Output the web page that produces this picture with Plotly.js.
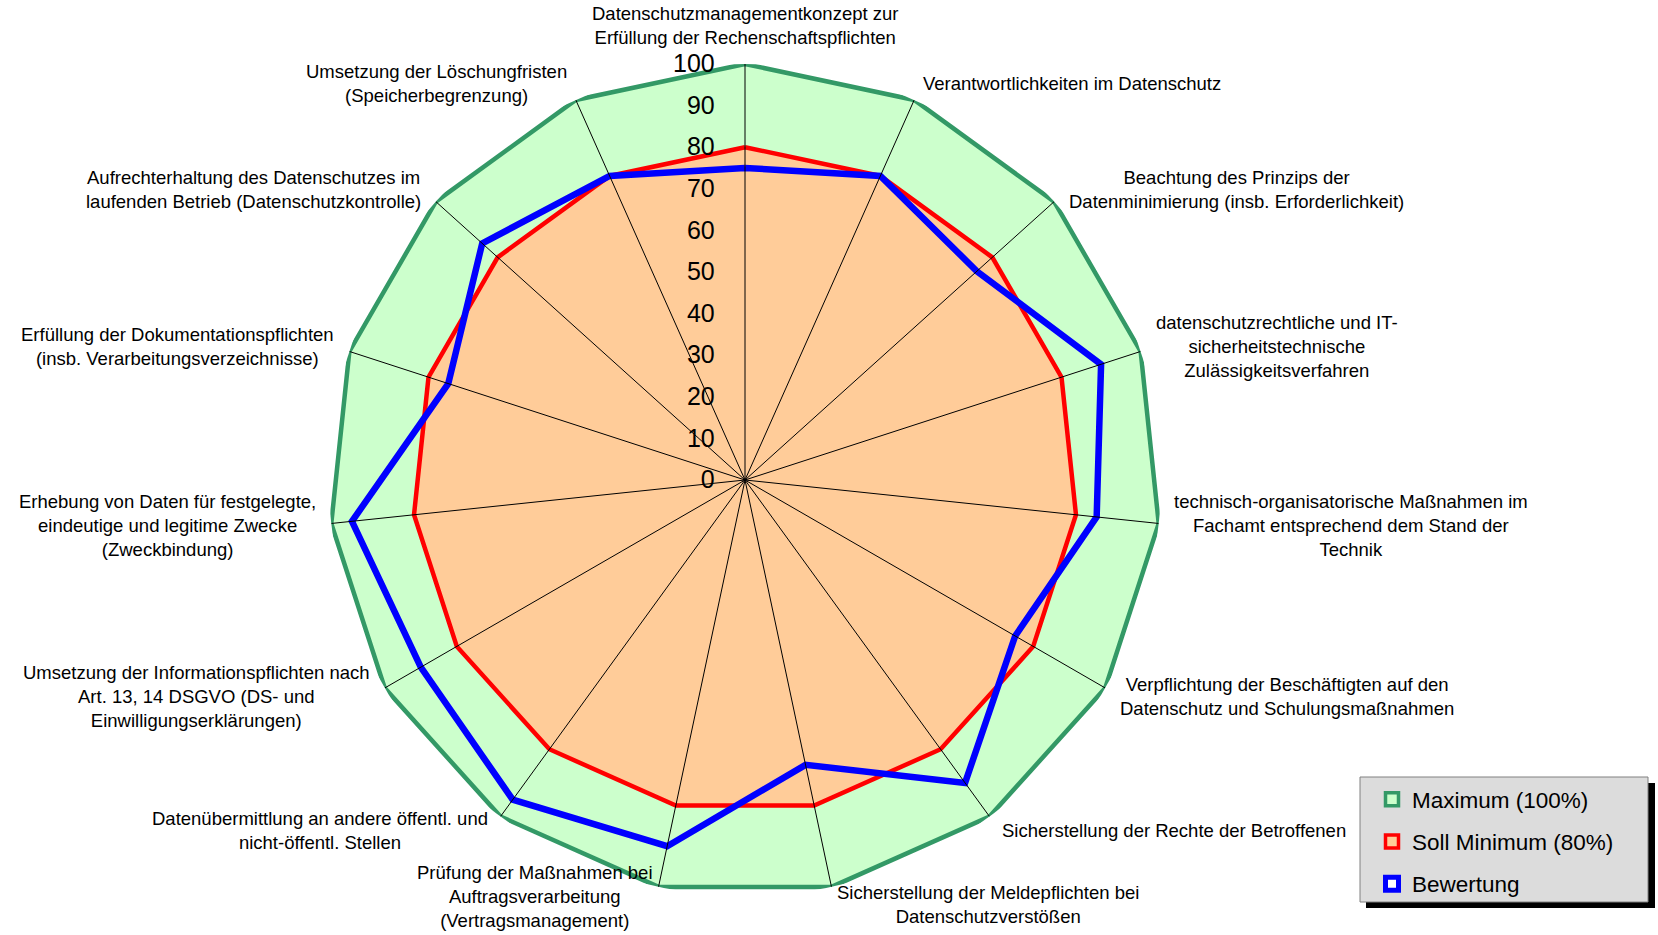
<!DOCTYPE html>
<html>
<head>
<meta charset="utf-8">
<script src="https://cdn.plot.ly/plotly-3.0.1.min.js"></script>
<style>html,body{margin:0;padding:0;background:#fff;}#chart{width:1658px;height:935px;}</style>
</head>
<body>
<div id="chart"></div>
<script>
const categories = [
  "Datenschutzmanagementkonzept zur<br>Erfüllung der Rechenschaftspflichten",
  "Verantwortlichkeiten im Datenschutz",
  "Beachtung des Prinzips der<br>Datenminimierung (insb. Erforderlichkeit)",
  "datenschutzrechtliche und IT-<br>sicherheitstechnische<br>Zulässigkeitsverfahren",
  "technisch-organisatorische Maßnahmen im<br>Fachamt entsprechend dem Stand der<br>Technik",
  "Verpflichtung der Beschäftigten auf den<br>Datenschutz und Schulungsmaßnahmen",
  "Sicherstellung der Rechte der Betroffenen",
  "Sicherstellung der Meldepflichten bei<br>Datenschutzverstößen",
  "Prüfung der Maßnahmen bei<br>Auftragsverarbeitung<br>(Vertragsmanagement)",
  "Datenübermittlung an andere öffentl. und<br>nicht-öffentl. Stellen",
  "Umsetzung der Informationspflichten nach<br>Art. 13, 14 DSGVO (DS- und<br>Einwilligungserklärungen)",
  "Erhebung von Daten für festgelegte,<br>eindeutige und legitime Zwecke<br>(Zweckbindung)",
  "Erfüllung der Dokumentationspflichten<br>(insb. Verarbeitungsverzeichnisse)",
  "Aufrechterhaltung des Datenschutzes im<br>laufenden Betrieb (Datenschutzkontrolle)",
  "Umsetzung der Löschungfristen<br>(Speicherbegrenzung)"
];
const maximum   = [100,100,100,100,100,100,100,100,100,100,100,100,100,100,100];
const sollMin   = [80,80,80,80,80,80,80,80,80,80,80,80,80,80,80];
const bewertung = [75,80,75,90,85,75,90,70,90,95,90,95,75,85,80];
const seriesNames = ["Maximum (100%)", "Soll Minimum (80%)", "Bewertung"];
const radialTicks = [0,10,20,30,40,50,60,70,80,90,100];

const W = 1658, H = 935;
const domX = [329/W, 1161/W];
const domY = [39/H, 871/H];

function closed(a){ return a.concat([a[0]]); }
const thetaClosed = closed(categories);

// spokes from centre to the maximum value of each category
const spokeR = [], spokeT = [];
categories.forEach((c,i)=>{ spokeR.push(0, maximum[i], null); spokeT.push(c, c, null); });

const FONT = "Arial, 'Liberation Sans', sans-serif";
const LABEL_SIZE = 18.5;

const traces = [
  {type:'scatterpolar', r:closed(maximum), theta:thetaClosed, mode:'lines', fill:'toself',
   fillcolor:'#CCFFCC', line:{color:'#339966', width:4.5}, name:seriesNames[0], showlegend:false, hoverinfo:'skip'},
  {type:'scatterpolar', r:closed(sollMin), theta:thetaClosed, mode:'lines', fill:'toself',
   fillcolor:'#FFCC99', line:{color:'#FF0000', width:4.5}, name:seriesNames[1], showlegend:false, hoverinfo:'skip'},
  {type:'scatterpolar', r:closed(bewertung), theta:thetaClosed, mode:'lines',
   line:{color:'#0000FF', width:6.5}, name:seriesNames[2], showlegend:false, hoverinfo:'skip'},
  {type:'scatterpolar', r:spokeR, theta:spokeT, mode:'lines', connectgaps:false,
   line:{color:'#000000', width:1}, showlegend:false, hoverinfo:'skip'},
  // legend entries
  {type:'scatterpolar', r:[null], theta:[null], mode:'markers', name:seriesNames[0], legendgroup:'a',
   marker:{symbol:'square', size:13, color:'#CCFFCC', line:{color:'#339966', width:3.5}}},
  {type:'scatterpolar', r:[null], theta:[null], mode:'markers', name:seriesNames[1], legendgroup:'b',
   marker:{symbol:'square', size:13, color:'#FFCC99', line:{color:'#FF0000', width:3.5}}},
  {type:'scatterpolar', r:[null], theta:[null], mode:'markers', name:seriesNames[2], legendgroup:'c',
   marker:{symbol:'square', size:13, color:'#FFFFFF', line:{color:'#0000FF', width:6}}}
];

// category labels placed just outside each polygon vertex
const cxPx = (domX[0]+domX[1])/2*W;
const cyPx = H - (domY[0]+domY[1])/2*H;
const Rpx = (domX[1]-domX[0])*W/2;
const annotations = categories.map((c,i)=>{
  const ang = i*360/categories.length*Math.PI/180;
  const s = Math.sin(ang), co = Math.cos(ang);
  const vx = cxPx + Rpx*s, vy = cyPx - Rpx*co;
  let xa = Math.abs(s) < 0.1 ? 'center' : (s > 0 ? 'left' : 'right');
  let ya = (xa === 'center') ? (co > 0 ? 'bottom' : 'top') : 'middle';
  const d = (xa === 'center') ? 14 : 17.5;
  const px = vx + Math.sign(s)*Math.min(d*Math.abs(s), 13);
  let py = vy - d*co;
  if (ya === 'middle') {
    const nLines = c.split('<br>').length;
    const h = nLines*1.3*LABEL_SIZE + 2;
    py = Math.min(py, H - 1 - h/2);
  }
  return {text:c, x:px/W, y:1-py/H, xref:'paper', yref:'paper', xanchor:xa, yanchor:ya,
          showarrow:false, align:'center', font:{family:FONT, size:LABEL_SIZE, color:'#000'}};
});

const layout = {
  width:W, height:H,
  margin:{l:0, r:0, t:0, b:0},
  paper_bgcolor:'#FFFFFF',
  font:{family:FONT, color:'#000'},
  showlegend:true,
  polar:{
    domain:{x:domX, y:domY},
    bgcolor:'rgba(0,0,0,0)',
    angularaxis:{rotation:90, direction:'clockwise', showline:false, showgrid:false,
                 showticklabels:false, ticks:''},
    radialaxis:{range:[0,100], angle:90, side:'counterclockwise', tickvals:radialTicks,
                showgrid:false, showline:false, ticks:'outside', ticklen:21, tickcolor:'rgba(0,0,0,0)',
                tickangle:90, tickfont:{family:FONT, size:25, color:'#000'}, layer:'above traces'}
  },
  legend:{x:1372/W, xanchor:'left', y:1-778/H, yanchor:'top', bgcolor:'rgba(0,0,0,0)',
          borderwidth:0, font:{family:FONT, size:22.5, color:'#000'}, tracegroupgap:10,
          itemclick:false, itemdoubleclick:false},
  shapes:[
    {type:'rect', xref:'paper', yref:'paper', x0:1366/W, x1:1655/W, y0:1-908/H, y1:1-783/H,
     fillcolor:'#000000', line:{width:0}, layer:'above'},
    {type:'rect', xref:'paper', yref:'paper', x0:1360/W, x1:1648/W, y0:1-902/H, y1:1-777/H,
     fillcolor:'#DCDCDC', line:{color:'#808080', width:1}, layer:'above'}
  ],
  annotations:annotations
};

Plotly.newPlot('chart', traces, layout, {displayModeBar:false, staticPlot:true});
</script>
</body>
</html>
